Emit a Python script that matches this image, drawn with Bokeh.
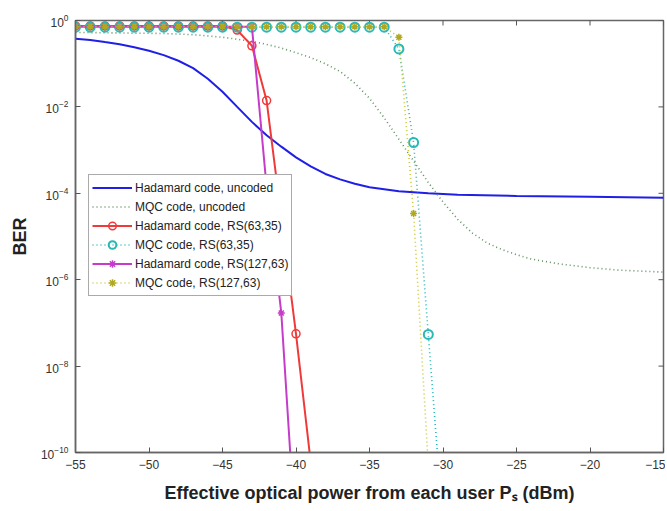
import math
from bokeh.plotting import figure
from bokeh.models import FixedTicker, Legend, LegendItem
from bokeh.embed import file_html
from bokeh.resources import INLINE

# ---------------- data ----------------
x_had_unc = [-55, -54, -53, -52, -51, -50, -49, -48, -47, -46, -45, -44, -43, -42, -41,
             -40, -39, -38, -37, -36, -35, -33, -31, -29, -25, -20, -15]
ber_had_unc = [0.38, 0.355, 0.316, 0.282, 0.24, 0.2, 0.158, 0.117, 0.079, 0.0447, 0.0224,
               0.01, 4.5e-3, 2.2e-3, 1.2e-3, 6.8e-4, 4.2e-4, 2.8e-4, 2.1e-4, 1.66e-4,
               1.38e-4, 1.12e-4, 1.0e-4, 9.3e-5, 8.7e-5, 8.3e-5, 7.9e-5]

x_mqc_unc = [-55, -53, -51, -49, -47, -45, -43, -42, -41, -40, -39, -38, -37, -36, -35,
             -34, -33, -32, -31, -30, -29, -28, -27, -26, -25, -24, -22, -20, -18, -15]
ber_mqc_unc = [0.53, 0.52, 0.51, 0.5, 0.47, 0.41, 0.33, 0.28, 0.23, 0.18, 0.138, 0.1,
               0.066, 0.0355, 0.0158, 5.6e-3, 1.78e-3, 5.6e-4, 1.78e-4, 6.3e-5, 2.5e-5,
               1.2e-5, 7.1e-6, 5.0e-6, 3.8e-6, 3.0e-6, 2.3e-6, 1.9e-6, 1.66e-6, 1.5e-6]

x_had_rs63 = [-55, -54, -53, -52, -51, -50, -49, -48, -47, -46, -45, -44, -43, -42, -40, -39]
ber_had_rs63 = [0.75, 0.75, 0.75, 0.75, 0.75, 0.75, 0.75, 0.75, 0.75, 0.75, 0.75, 0.6,
                0.26, 1.4e-2, 5.6e-8, 6e-11]

x_mqc_rs63 = [-55, -54, -53, -52, -51, -50, -49, -48, -47, -46, -45, -44, -43, -42, -41,
              -40, -39, -38, -37, -36, -35, -34, -33, -32, -31, -30]
ber_mqc_rs63 = [0.7] * 22 + [0.22, 1.5e-3, 5.4e-8, 2e-12]

x_had_rs127 = [-55, -54, -53, -52, -51, -50, -49, -48, -47, -46, -45, -44, -43, -42, -41, -40]
ber_had_rs127 = [0.72] * 13 + [1.4e-4, 1.7e-7, 8e-13]

x_mqc_rs127 = [-55, -54, -53, -52, -51, -50, -49, -48, -47, -46, -45, -44, -43, -42, -41,
               -40, -39, -38, -37, -36, -35, -34, -33, -32, -31]
ber_mqc_rs127 = [0.72] * 22 + [0.41, 3.4e-5, 5e-11]

x_ticks = [-55, -50, -45, -40, -35, -30, -25, -20, -15]
y_ticks = [1e-10, 1e-8, 1e-6, 1e-4, 1e-2, 1]

labels = ["Hadamard code, uncoded", "MQC code, uncoded", "Hadamard code, RS(63,35)",
          "MQC code, RS(63,35)", "Hadamard code, RS(127,63)", "MQC code, RS(127,63)"]
x_title = "Effective optical power from each user P\u209b (dBm)"
y_title = "BER"

# ---------------- figure ----------------
FONT = "Liberation Sans"
X0, X1 = -55, -15
Y0, Y1 = 1e-10, 1
p = figure(width=665, height=508, y_axis_type="log", x_range=(X0, X1),
           y_range=(Y0, Y1), output_backend="svg", toolbar_location=None,
           min_border_left=75, min_border_right=2, min_border_top=20, min_border_bottom=56)
p.grid.visible = False
p.outline_line_color = "#666666"
p.outline_line_width = 1.5
p.background_fill_color = "white"
p.border_fill_color = "white"

for ax in (p.xaxis[0], p.yaxis[0]):
    ax.major_tick_in = 5
    ax.major_tick_out = 0
    ax.minor_tick_in = 0
    ax.minor_tick_out = 0
    ax.axis_line_color = "#666666"
    ax.axis_line_width = 1.5
    ax.major_tick_line_color = "#555555"
    ax.major_label_text_font = FONT
    ax.major_label_text_font_size = "12px"
    ax.major_label_text_color = "#333333"
    ax.major_label_standoff = 7
    ax.axis_label_text_font = FONT
    ax.axis_label_text_font_size = "18px"
    ax.axis_label_text_font_style = "bold"
    ax.axis_label_text_color = "#222222"
p.xaxis[0].ticker = FixedTicker(ticks=x_ticks, minor_ticks=[])
p.yaxis[0].ticker = FixedTicker(ticks=y_ticks, minor_ticks=[])
p.yaxis[0].axis_label = y_title
p.yaxis[0].axis_label_standoff = 8
p.xaxis[0].axis_label = x_title
p.xaxis[0].axis_label_standoff = 11

# inward ticks on the top and right edges (half of each dash is clipped away)
p.scatter(x_ticks, [Y1] * len(x_ticks), marker="dash", angle=math.pi / 2, size=10,
          line_color="#555555", line_width=1)
p.scatter([X1] * len(y_ticks), y_ticks, marker="dash", size=10,
          line_color="#555555", line_width=1)

# ---------------- series ----------------
C_BLUE = "#1f1fe6"
C_GREEN = "#5e9160"
C_RED = "#f03a3a"
C_CYAN = "#27b8b8"
C_MAG = "#c53cc8"
C_YEL = "#c9c93a"

r1 = p.line(x_had_unc, ber_had_unc, line_color=C_BLUE, line_width=2)
r2 = p.line(x_mqc_unc, ber_mqc_unc, line_color=C_GREEN, line_width=1.6, line_dash="1 3")
r3 = p.line(x_had_rs63, ber_had_rs63, line_color=C_RED, line_width=2)
r3m = p.scatter(x_had_rs63, ber_had_rs63, marker="circle", size=8, line_color=C_RED,
                fill_color=None, line_width=1.5)
r4 = p.line(x_mqc_rs63, ber_mqc_rs63, line_color=C_CYAN, line_width=1.6, line_dash="1 3")
r4m = p.scatter(x_mqc_rs63, ber_mqc_rs63, marker="circle", size=9, line_color=C_CYAN,
                fill_color=None, line_width=2)
r5 = p.line(x_had_rs127, ber_had_rs127, line_color=C_MAG, line_width=2)
r5m = p.scatter(x_had_rs127, ber_had_rs127, marker="asterisk", size=7, line_color=C_MAG,
                line_width=1.5)
r6 = p.line(x_mqc_rs127, ber_mqc_rs127, line_color=C_YEL, line_width=1.6, line_dash="1 3")
r6m = p.scatter(x_mqc_rs127, ber_mqc_rs127, marker="asterisk", size=7, line_color="#b0a820",
                line_width=1.5)

legend = Legend(items=[
    LegendItem(label=labels[0], renderers=[r1]),
    LegendItem(label=labels[1], renderers=[r2]),
    LegendItem(label=labels[2], renderers=[r3, r3m]),
    LegendItem(label=labels[3], renderers=[r4, r4m]),
    LegendItem(label=labels[4], renderers=[r5, r5m]),
    LegendItem(label=labels[5], renderers=[r6, r6m]),
], location=(13, 156), glyph_width=40, glyph_height=19, label_height=19,
    label_text_font=FONT, label_text_font_size="12px", label_text_color="#222222",
    label_standoff=3, spacing=0, padding=3, margin=0,
    border_line_color="#555555", border_line_width=1.5, background_fill_alpha=1)
p.add_layout(legend, "center")

open("out.html", "w").write(file_html(p, INLINE))
